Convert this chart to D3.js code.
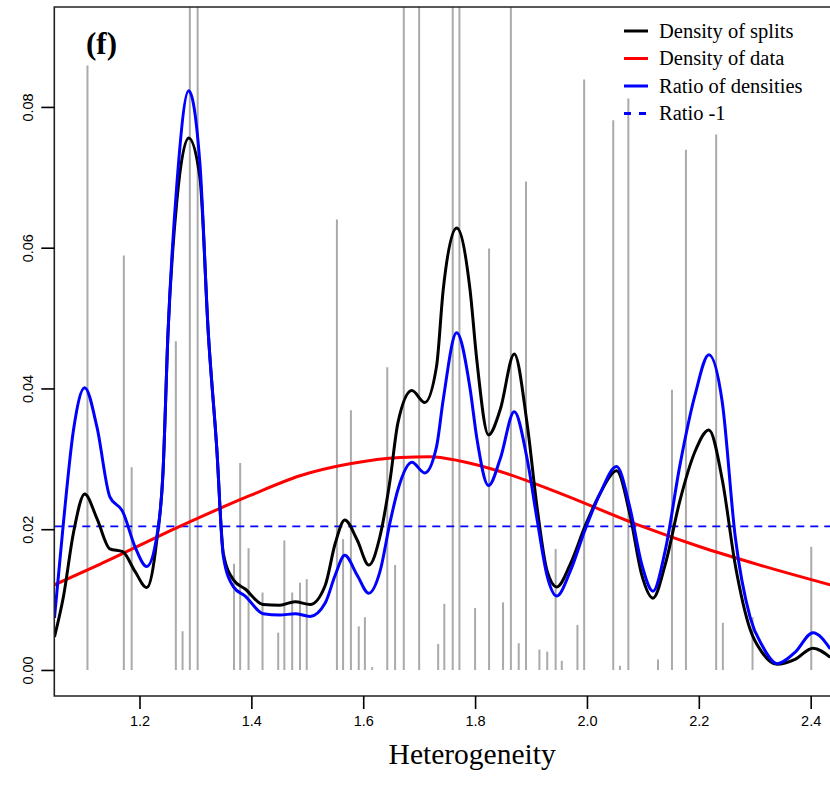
<!DOCTYPE html>
<html>
<head>
<meta charset="utf-8">
<script src="https://cdn.jsdelivr.net/npm/d3@7"></script>
<style>
  body { margin: 0; background: #fff; }
</style>
</head>
<body>
<svg id="chart"></svg>
<script>
// split positions (gray spikes) and their heights
const splitX = [1.107, 1.172, 1.186, 1.265, 1.277, 1.290, 1.304, 1.369, 1.380, 1.395,
  1.420, 1.448, 1.459, 1.473, 1.487, 1.499, 1.553, 1.564, 1.578, 1.592,
  1.603, 1.616, 1.643, 1.657, 1.6725, 1.700, 1.734, 1.745, 1.760, 1.772,
  1.800, 1.825, 1.850, 1.864, 1.878, 1.891, 1.915, 1.929, 1.944, 1.955,
  1.983, 1.995, 2.047, 2.059, 2.074, 2.127, 2.152, 2.177, 2.231, 2.243,
  2.296, 2.401];
const splitH = [0.0859, 0.0589, 0.0288, 0.0467, 0.0055, 0.12, 0.12, 0.0151, 0.0294, 0.0173,
  0.0110, 0.0053, 0.0184, 0.0110, 0.0124, 0.0129, 0.0640, 0.0186, 0.0369, 0.0062,
  0.0075, 0.0004, 0.0430, 0.0149, 0.12, 0.12, 0.0037, 0.0094, 0.12, 0.12,
  0.0088, 0.0599, 0.0096, 0.12, 0.0038, 0.0694, 0.0029, 0.0026, 0.0172, 0.0013,
  0.0064, 0.0839, 0.0781, 0.0006, 0.0812, 0.0015, 0.0398, 0.0739, 0.0761, 0.0067,
  0.0075, 0.0175];

// density curves
const gridX = [1.048, 1.064, 1.082, 1.102, 1.124, 1.147, 1.170, 1.192, 1.213, 1.231,
  1.242, 1.251, 1.267, 1.288, 1.308, 1.323, 1.338, 1.350, 1.368, 1.389,
  1.421, 1.451, 1.478, 1.505, 1.532, 1.550, 1.567, 1.589, 1.610, 1.630,
  1.648, 1.662, 1.687, 1.710, 1.731, 1.743, 1.767, 1.791, 1.803, 1.824,
  1.845, 1.870, 1.893, 1.911, 1.929, 1.946, 1.970, 1.997, 2.023, 2.053,
  2.077, 2.098, 2.118, 2.140, 2.166, 2.193, 2.218, 2.242, 2.265, 2.292,
  2.313, 2.340, 2.372, 2.404, 2.435];
const splitDensity = [0.0047, 0.0104, 0.0195, 0.0250, 0.0215, 0.0172, 0.0168, 0.0140, 0.0117, 0.0185,
  0.0280, 0.0479, 0.0668, 0.0756, 0.0700, 0.0479, 0.0317, 0.0165, 0.0128, 0.0115,
  0.0093, 0.0092, 0.0097, 0.0093, 0.0120, 0.0180, 0.0213, 0.0185, 0.0149, 0.0190,
  0.0270, 0.0351, 0.0397, 0.0380, 0.0431, 0.0540, 0.0628, 0.0540, 0.0441, 0.0334,
  0.0370, 0.0449, 0.0350, 0.0230, 0.0140, 0.0118, 0.0150, 0.0205, 0.0250, 0.0283,
  0.0220, 0.0135, 0.0102, 0.0150, 0.0240, 0.0310, 0.0341, 0.0270, 0.0150, 0.0057,
  0.0025, 0.0008, 0.0015, 0.0031, 0.0018];
const ratioDensity = [0.0074, 0.0209, 0.0341, 0.0401, 0.0345, 0.0246, 0.0225, 0.0175, 0.0147, 0.0190,
  0.0280, 0.0479, 0.0692, 0.0823, 0.0720, 0.0479, 0.0317, 0.0161, 0.0118, 0.0105,
  0.0080, 0.0078, 0.0080, 0.0076, 0.0095, 0.0135, 0.0163, 0.0135, 0.0109, 0.0140,
  0.0210, 0.0256, 0.0295, 0.0280, 0.0317, 0.0384, 0.0479, 0.0400, 0.0330, 0.0262,
  0.0300, 0.0367, 0.0300, 0.0213, 0.0133, 0.0105, 0.0140, 0.0200, 0.0250, 0.0289,
  0.0230, 0.0150, 0.0112, 0.0170, 0.0290, 0.0390, 0.0448, 0.0380, 0.0190, 0.0074,
  0.0035, 0.0009, 0.0025, 0.0053, 0.0030];

const dataX = [1.048, 1.129, 1.272, 1.398, 1.487, 1.576, 1.666, 1.719, 1.773, 1.845,
  1.952, 2.095, 2.202, 2.309, 2.435];
const dataDensity = [0.0121, 0.0150, 0.0204, 0.0248, 0.0276, 0.0293, 0.0302, 0.0303, 0.0297, 0.0282,
  0.0251, 0.0205, 0.0175, 0.0149, 0.0121];

const ratioMinusOne = 0.0204;

const xTicks = [1.2, 1.4, 1.6, 1.8, 2.0, 2.2, 2.4];
const yTicks = [0.00, 0.02, 0.04, 0.06, 0.08];

const legendLabels = ["Density of splits", "Density of data", "Ratio of densities", "Ratio -1"];
const legendColors = ["#000000", "#ff0000", "#0000ff", "#0000ff"];

const width = 830, height = 790;
const plotLeft = 54.3, plotRight = 890, plotTop = 7, plotBottom = 696;

const svg = d3.select("#chart").attr("width", width).attr("height", height);

const x = d3.scaleLinear().domain([1.0477, 2.5418]).range([plotLeft, plotRight]);
const y = d3.scaleLinear().domain([-0.0037, 0.0942]).range([plotBottom, plotTop]);

svg.append("clipPath").attr("id", "clip")
  .append("rect")
  .attr("x", plotLeft).attr("y", plotTop)
  .attr("width", plotRight - plotLeft).attr("height", plotBottom - plotTop);

const plot = svg.append("g").attr("clip-path", "url(#clip)");

// gray spikes
plot.selectAll("line.split")
  .data(splitX)
  .join("line")
  .attr("class", "split")
  .attr("x1", d => x(d)).attr("x2", d => x(d))
  .attr("y1", y(0))
  .attr("y2", (d, i) => y(splitH[i]))
  .attr("stroke", "#aaaaaa")
  .attr("stroke-width", 2);

// ratio - 1 reference line
plot.append("line")
  .attr("x1", plotLeft).attr("x2", plotRight)
  .attr("y1", y(ratioMinusOne)).attr("y2", y(ratioMinusOne))
  .attr("stroke", "#0000ff")
  .attr("stroke-width", 1.6)
  .attr("stroke-dasharray", "8 6");

const line = d3.line()
  .x(d => x(d[0]))
  .y(d => y(d[1]))
  .curve(d3.curveMonotoneX);

plot.append("path")
  .attr("d", line(dataX.map((v, i) => [v, dataDensity[i]])))
  .attr("fill", "none").attr("stroke", "#ff0000").attr("stroke-width", 3);

plot.append("path")
  .attr("d", line(gridX.map((v, i) => [v, splitDensity[i]])))
  .attr("fill", "none").attr("stroke", "#000000").attr("stroke-width", 3);

plot.append("path")
  .attr("d", line(gridX.map((v, i) => [v, ratioDensity[i]])))
  .attr("fill", "none").attr("stroke", "#0000ff").attr("stroke-width", 3);

// box (left, top, bottom; right side is cut off)
svg.append("path")
  .attr("d", `M${plotRight},${plotTop}H${plotLeft}V${plotBottom}H${plotRight}`)
  .attr("fill", "none").attr("stroke", "#222").attr("stroke-width", 1.6);

// axes
const yAxis = svg.append("g")
  .attr("transform", `translate(${plotLeft},0)`)
  .call(d3.axisLeft(y).tickValues(yTicks).tickFormat(d3.format(".2f")).tickSize(13))
  .call(g => g.select(".domain").remove());
yAxis.selectAll("line").attr("stroke", "#000").attr("stroke-width", 1.6);
yAxis.selectAll("text")
  .attr("transform", "rotate(-90)")
  .attr("x", 0).attr("y", -26).attr("dy", "0.35em")
  .attr("text-anchor", "middle")
  .attr("font-family", "Liberation Sans, Arial, sans-serif")
  .attr("font-size", 14.5).attr("fill", "#000");

const xAxis = svg.append("g")
  .attr("transform", `translate(0,${plotBottom})`)
  .call(d3.axisBottom(x).tickValues(xTicks).tickFormat(d3.format(".1f")).tickSize(13).tickPadding(7))
  .call(g => g.select(".domain").remove());
xAxis.selectAll("line").attr("stroke", "#000").attr("stroke-width", 1.6);
xAxis.selectAll("text")
  .attr("font-family", "Liberation Sans, Arial, sans-serif")
  .attr("font-size", 14.5).attr("fill", "#000");

svg.append("text")
  .attr("x", (plotLeft + plotRight) / 2)
  .attr("y", 764)
  .attr("text-anchor", "middle")
  .attr("font-family", "Liberation Serif, Times New Roman, serif")
  .attr("font-size", 29.5)
  .text("Heterogeneity");

svg.append("text")
  .attr("x", 86).attr("y", 54)
  .attr("font-family", "Liberation Serif, Times New Roman, serif")
  .attr("font-weight", "bold")
  .attr("font-size", 31)
  .text("(f)");

// legend
const legend = svg.append("g").attr("font-family", "Liberation Serif, Times New Roman, serif");
legendLabels.forEach((label, i) => {
  const ly = 31 + i * 27.5;
  legend.append("line")
    .attr("x1", 624).attr("x2", 648)
    .attr("y1", ly).attr("y2", ly)
    .attr("stroke", legendColors[i])
    .attr("stroke-width", 3)
    .attr("stroke-dasharray", i === 3 ? "7 8" : null);
  legend.append("text")
    .attr("x", 659).attr("y", ly).attr("dy", "0.33em")
    .attr("font-size", 20.5)
    .text(label);
});
</script>
</body>
</html>
